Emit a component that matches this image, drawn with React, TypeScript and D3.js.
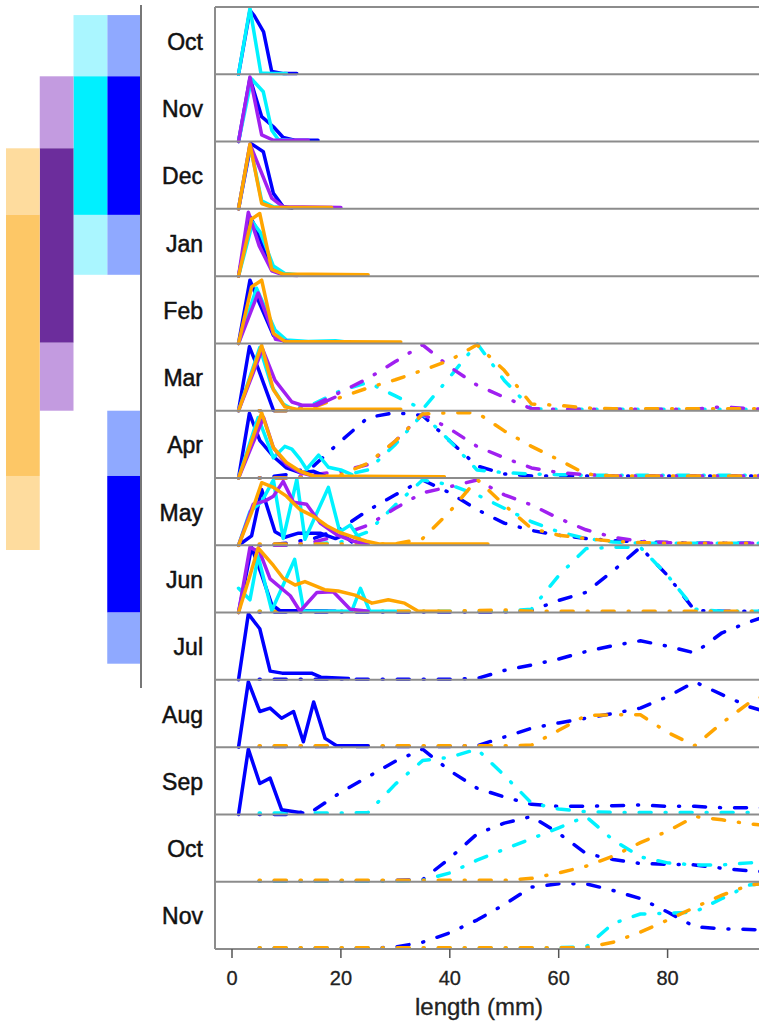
import React from "react";
import * as d3 from "d3";

// ---------- DATA ----------
const months = ["Oct", "Nov", "Dec", "Jan", "Feb", "Mar", "Apr", "May", "Jun", "Jul", "Aug", "Sep", "Oct", "Nov"];
const xTicks = [0, 20, 40, 60, 80];
const ddX = [5, 10, 15, 20, 25, 30, 35, 40, 45, 50, 55, 60, 65, 70, 75, 80, 85, 90, 95, 100];

const seriesColors: Record<string, string> = { blue: "#0000ff", cyan: "#00f2ff", purple: "#a020f0", orange: "#ffa500" };
const drawOrder = ["blue", "cyan", "purple", "orange"];

// Solid (small-size) relative frequency curves: [length, relative height]
const solidOct = {
  blue: [[1.2, 0], [3.3, 0.95], [4.1, 0.87], [5.8, 0.63], [7.3, 0.04], [9.5, 0.01], [11.9, 0.01]],
  cyan: [[1.2, 0], [3.3, 0.98], [5.3, 0.02], [7.5, 0.01], [10, 0.01]],
};
const solidNov = {
  blue: [[1.2, 0], [3.3, 0.94], [5.45, 0.37], [7.6, 0.22], [9.4, 0.06], [11.5, 0.02], [15.8, 0.02]],
  cyan: [[1.2, 0], [3.6, 0.93], [5.75, 0.74], [7.3, 0.17], [8.5, 0.03], [11, 0.02]],
  purple: [[1.2, 0], [3.3, 0.96], [5.45, 0.1], [7.6, 0.02], [14, 0.02]],
};
const solidDec = {
  blue: [[1.2, 0], [3.5, 0.97], [5.75, 0.85], [7.6, 0.23], [9.4, 0.03], [11, 0.01]],
  cyan: [[1.2, 0], [3.3, 0.95], [5.45, 0.12], [7.6, 0.03], [9.4, 0.02]],
  purple: [[1.2, 0], [3.3, 0.96], [7.3, 0.16], [9.4, 0.03], [20, 0.02]],
  orange: [[1.2, 0], [3.3, 0.96], [5.45, 0.08], [7.6, 0.02], [18.3, 0.02]],
};
const solidJan = {
  blue: [[1.2, 0], [3.3, 0.88], [4.2, 0.75], [7.3, 0.1], [9.4, 0.03], [11, 0.02]],
  cyan: [[1.2, 0], [3.8, 0.8], [5.2, 0.65], [7.6, 0.15], [9.7, 0.04], [12, 0.02]],
  purple: [[1.2, 0], [3.0, 0.95], [5.0, 0.45], [7.3, 0.08], [9.4, 0.02], [12, 0.01]],
  orange: [[1.2, 0], [3.6, 0.85], [5.1, 0.93], [7.3, 0.1], [9.4, 0.03], [25, 0.02]],
};
const solidFeb = {
  blue: [[1.2, 0], [3.3, 0.94], [4.5, 0.7], [7.6, 0.12], [9.7, 0.03], [12, 0.02]],
  cyan: [[1.2, 0], [4.5, 0.82], [7.9, 0.2], [10, 0.05], [14, 0.03], [19, 0.04], [21, 0.02]],
  purple: [[1.2, 0], [4.8, 0.75], [8.0, 0.06], [11, 0.02], [14, 0.02]],
  orange: [[1.2, 0], [3.6, 0.84], [5.45, 0.94], [7.6, 0.15], [9.7, 0.03], [31, 0.02]],
};
const solidMar = {
  blue: [[1.2, 0], [3.2, 0.95], [4.8, 0.63], [7.6, 0.01]],
  cyan: [[1.2, 0], [5.1, 0.94], [7.3, 0.36], [9.4, 0.1], [11, 0.03]],
  purple: [[1.2, 0], [5.6, 0.92], [7.9, 0.45], [11, 0.13], [13, 0.08], [15.6, 0.08], [18.9, 0.2]],
  orange: [[1.2, 0], [5.45, 0.97], [7.6, 0.31], [9.7, 0.06], [12, 0.02], [31, 0.02]],
};
const solidApr = {
  blue: [[1.2, 0], [3.2, 0.96], [5.1, 0.56], [7.6, 0.32], [10, 0.15], [12.5, 0.08], [15, 0.1], [17, 0.03]],
  cyan: [[1.2, 0], [4.8, 0.9], [7.6, 0.3], [9.7, 0.47], [11, 0.43], [12.5, 0.28], [13.7, 0.13], [15.9, 0.34], [17.7, 0.16], [20, 0.12], [22, 0.05]],
  purple: [[1.2, 0], [5.8, 0.9], [7.6, 0.45], [10, 0.2], [12.5, 0.08], [15, 0.03], [18, 0.02]],
  orange: [[1.2, 0], [5.45, 0.97], [7.6, 0.45], [10, 0.23], [12.5, 0.1], [15, 0.03], [39, 0.02]],
};
const solidMay = {
  blue: [[1.2, 0], [3.6, 0.14], [5.45, 0.83], [7.9, 0.2], [9.7, 0.12], [12.2, 0.18], [16.2, 0.18], [19, 0.1], [20.5, 0.15], [22, 0.05]],
  cyan: [[1.2, 0], [3.3, 0.5], [5.45, 0.65], [7.6, 0.97], [9.4, 0.1], [11.9, 0.98], [13.4, 0.09], [17.7, 0.86], [19.8, 0.2], [21.7, 0.3], [24, 0.03]],
  purple: [[1.2, 0], [3.9, 0.61], [6.1, 0.66], [7.6, 0.73], [9.4, 0.95], [11.3, 0.64], [13.7, 0.61], [16.2, 0.33], [19.4, 0.15], [22.3, 0.06], [25, 0.02]],
  orange: [[1.2, 0], [3.6, 0.49], [5.45, 0.93], [7.6, 0.86], [10, 0.73], [12.5, 0.53], [15, 0.43], [17.4, 0.29], [19.8, 0.19], [22.3, 0.12], [24.7, 0.06], [27, 0.02], [47, 0.02]],
};
const solidJun = {
  blue: [[1.2, 0], [3.6, 0.97], [5.45, 0.56], [7.3, 0.12], [8.8, 0.03], [19, 0.02]],
  cyan: [[1.2, 0.36], [3.3, 0.19], [4.8, 0.84], [7.3, 0.03], [11.5, 0.79], [13.2, 0.02], [22, 0.02], [23.6, 0.36], [25.3, 0.02], [30, 0.02]],
  purple: [[1.2, 0], [3.3, 0.97], [5.1, 0.9], [7.0, 0.5], [10.7, 0.25], [12.5, 0.02], [15.6, 0.3], [18.6, 0.31], [21.7, 0.05], [25, 0.02]],
  orange: [[1.2, 0], [3.3, 0.55], [4.8, 0.96], [7.6, 0.7], [9.4, 0.51], [11.6, 0.41], [13.4, 0.46], [17, 0.34], [19.5, 0.32], [22.6, 0.26], [25.7, 0.14], [28.7, 0.19], [31.7, 0.14], [34.2, 0.02], [38, 0.02]],
};
const solidJul = {
  blue: [[1.2, 0], [3.0, 0.98], [5.1, 0.76], [7.0, 0.13], [9.2, 0.1], [14.6, 0.1], [16.3, 0.04], [21.4, 0.02]],
};
const solidAug = {
  blue: [[1.2, 0], [3.0, 0.97], [5.1, 0.53], [7.0, 0.58], [9.1, 0.43], [11.3, 0.53], [13.1, 0.08], [15, 0.67], [17.1, 0.13], [19.2, 0.02], [25, 0.02]],
};
const solidSep = {
  blue: [[1.2, 0], [3.0, 0.97], [5.1, 0.46], [7.0, 0.54], [9.1, 0.07], [13, 0.02]],
};
const solidByPanel = [solidOct, solidNov, solidDec, solidJan, solidFeb, solidMar, solidApr, solidMay, solidJun, solidJul, solidAug, solidSep, {}, {}];

// Dash-dot (larger-size) curves, values at ddX (5..100 mm)
const ddMar = {
  cyan: [0, 0, 0.1, 0.3, 0.42, 0.22, 0.02, 0.5, 1.0, 0.45, 0.03, 0.02, 0.02, 0.02, 0.02, 0.02, 0.02, 0.02, 0.02, 0.02],
  purple: [0, 0, 0.08, 0.28, 0.48, 0.73, 0.98, 0.65, 0.38, 0.2, 0.03, 0.02, 0.02, 0.02, 0.02, 0.02, 0.02, 0.06, 0.03, 0.02],
  orange: [0, 0, 0.05, 0.2, 0.34, 0.46, 0.6, 0.75, 0.98, 0.6, 0.1, 0.08, 0.04, 0.03, 0.03, 0.03, 0.03, 0.03, 0.03, 0.03],
};
const ddApr = {
  blue: [0, 0.05, 0.18, 0.55, 0.9, 0.97, 0.93, 0.55, 0.18, 0.06, 0.03, 0.03, 0.03, 0.03, 0.03, 0.03, 0.03, 0.03, 0.03, 0.03],
  cyan: [0, 0, 0.02, 0.03, 0.12, 0.5, 0.95, 0.55, 0.12, 0.08, 0.06, 0.05, 0.04, 0.04, 0.04, 0.04, 0.04, 0.04, 0.04, 0.04],
  purple: [0, 0, 0.05, 0.1, 0.2, 0.55, 0.95, 0.73, 0.47, 0.3, 0.15, 0.08, 0.05, 0.03, 0.03, 0.03, 0.03, 0.03, 0.03, 0.03],
  orange: [0, 0, 0.02, 0.05, 0.22, 0.55, 0.95, 0.97, 0.97, 0.7, 0.47, 0.27, 0.06, 0.03, 0.03, 0.03, 0.03, 0.03, 0.03, 0.03],
};
const ddMay = {
  blue: [0, 0.03, 0.1, 0.25, 0.52, 0.75, 0.97, 0.78, 0.53, 0.33, 0.22, 0.15, 0.1, 0.07, 0.05, 0.04, 0.03, 0.03, 0.03, 0.03],
  cyan: [0, 0, 0.02, 0.05, 0.2, 0.6, 0.97, 0.9, 0.75, 0.55, 0.35, 0.2, 0.1, 0.05, 0.03, 0.03, 0.03, 0.03, 0.03, 0.03],
  purple: [0, 0, 0.05, 0.15, 0.3, 0.55, 0.78, 0.87, 0.97, 0.75, 0.6, 0.4, 0.23, 0.12, 0.06, 0.04, 0.03, 0.03, 0.03, 0.03],
  orange: [0.02, 0.02, 0.02, 0.02, 0.02, 0.02, 0.1, 0.5, 0.98, 0.6, 0.25, 0.15, 0.1, 0.06, 0.04, 0.03, 0.03, 0.03, 0.03, 0.03],
};
const ddJun = {
  blue: [0.01, 0.01, 0.01, 0.01, 0.01, 0.01, 0.01, 0.01, 0.01, 0.01, 0.03, 0.18, 0.3, 0.62, 0.97, 0.55, 0.03, 0.02, 0.02, 0.02],
  cyan: [0.02, 0.02, 0.02, 0.02, 0.02, 0.02, 0.02, 0.02, 0.02, 0.02, 0.05, 0.55, 0.95, 0.97, 0.97, 0.55, 0.05, 0.02, 0.02, 0.02],
  orange: [0.02, 0.02, 0.02, 0.02, 0.02, 0.02, 0.02, 0.02, 0.03, 0.04, 0.02, 0.02, 0.02, 0.02, 0.02, 0.02, 0.02, 0.02, 0.02, 0.02],
};
const ddJul = {
  blue: [0.01, 0.01, 0.01, 0.01, 0.01, 0.01, 0.01, 0.01, 0.02, 0.14, 0.22, 0.31, 0.42, 0.51, 0.58, 0.5, 0.4, 0.7, 0.86, 1.0],
};
const ddAug = {
  blue: [0.01, 0.01, 0.01, 0.01, 0.01, 0.01, 0.01, 0.01, 0.02, 0.15, 0.28, 0.36, 0.43, 0.5, 0.58, 0.75, 0.97, 0.78, 0.6, 0.48],
  orange: [0.02, 0.02, 0.02, 0.02, 0.02, 0.02, 0.02, 0.02, 0.02, 0.02, 0.03, 0.25, 0.47, 0.48, 0.48, 0.22, 0.02, 0.36, 0.66, 0.85],
};
const ddSep = {
  blue: [0, 0, 0.06, 0.33, 0.56, 0.79, 0.97, 0.65, 0.39, 0.26, 0.15, 0.12, 0.12, 0.13, 0.14, 0.12, 0.12, 0.1, 0.1, 0.1],
  cyan: [0.02, 0.02, 0.02, 0.02, 0.03, 0.45, 0.8, 0.85, 0.97, 0.58, 0.17, 0.08, 0.04, 0.03, 0.03, 0.03, 0.03, 0.03, 0.03, 0.03],
};
const ddOct2 = {
  blue: [0.01, 0.01, 0.01, 0.01, 0.01, 0.02, 0.03, 0.35, 0.71, 0.87, 0.97, 0.72, 0.42, 0.33, 0.27, 0.26, 0.25, 0.2, 0.16, 0.14],
  cyan: [0.01, 0.01, 0.01, 0.01, 0.01, 0.01, 0.02, 0.13, 0.32, 0.48, 0.64, 0.8, 0.97, 0.62, 0.37, 0.28, 0.25, 0.25, 0.28, 0.3],
  orange: [0.02, 0.02, 0.02, 0.02, 0.02, 0.02, 0.02, 0.02, 0.02, 0.02, 0.05, 0.13, 0.23, 0.38, 0.58, 0.75, 0.97, 0.92, 0.86, 0.82],
};
const ddNov2 = {
  blue: [0.01, 0.01, 0.01, 0.01, 0.01, 0.03, 0.1, 0.24, 0.43, 0.66, 0.92, 0.97, 0.97, 0.87, 0.75, 0.55, 0.33, 0.3, 0.29, 0.28],
  cyan: [0.01, 0.01, 0.01, 0.01, 0.01, 0.01, 0.01, 0.01, 0.01, 0.01, 0.01, 0.02, 0.03, 0.38, 0.52, 0.53, 0.55, 0.75, 0.95, 1.0],
  orange: [0.02, 0.02, 0.02, 0.02, 0.02, 0.02, 0.02, 0.02, 0.02, 0.02, 0.02, 0.02, 0.02, 0.1, 0.25, 0.43, 0.62, 0.8, 0.95, 1.0],
};
const ddByPanel = [{}, {}, {}, {}, {}, ddMar, ddApr, ddMay, ddJun, ddJul, ddAug, ddSep, ddOct2, ddNov2];

// Left timing bars: [column, startMonthIndex, endMonthIndex, shade]
const barColumns = ["orange", "purple", "cyan", "blue"];
const barShades: Record<string, string[]> = {
  orange: ["#fedc9e", "#fdc766"],
  purple: ["#c39be0", "#6c2d9c"],
  cyan: ["#aaf6ff", "#00f0ff"],
  blue: ["#8fa9ff", "#0000ff"],
};
const timingBars: [string, number, number, number][] = [
  ["blue", 0.12, 1.03, 0], ["blue", 1.03, 3.09, 1], ["blue", 3.09, 3.98, 0],
  ["blue", 6.0, 6.97, 0], ["blue", 6.97, 9.0, 1], ["blue", 9.0, 9.76, 0],
  ["cyan", 0.12, 1.03, 0], ["cyan", 1.03, 3.09, 1], ["cyan", 3.09, 3.98, 0],
  ["purple", 1.03, 2.1, 0], ["purple", 2.1, 4.99, 1], ["purple", 4.99, 6.0, 0],
  ["orange", 2.1, 3.09, 0], ["orange", 3.09, 6.97, 1], ["orange", 6.97, 8.07, 0],
];

// ---------- LAYOUT ----------
const W = 759;
const H = 1023;
const plotLeft = 215;
const plotRight = 800;
const plotTop = 7;
const plotBottom = 949;
const barLeft = 6;
const barRight = 141;
const font = "Liberation Sans, Arial, sans-serif";

export default function App() {
  const x = d3.scaleLinear().domain([0, 100]).range([232, 776.5]);
  const band = d3.scaleBand<number>().domain(d3.range(months.length)).range([plotTop, plotBottom]).paddingInner(0).paddingOuter(0);
  const monthY = d3.scaleLinear().domain([0, months.length]).range([plotTop, plotBottom]);
  const colX = d3.scaleBand<string>().domain(barColumns).range([barLeft, barRight]);
  const ph = band.bandwidth();

  const panels = months.map((m, i) => {
    const top = band(i) as number;
    const y = d3.scaleLinear().domain([0, 1]).range([top + ph, top]);
    const line = d3.line<number[]>().x((d) => x(d[0])).y((d) => y(d[1]));
    const dd: any = ddByPanel[i];
    const solid: any = solidByPanel[i];
    return (
      <g key={i}>
        <g clipPath="url(#plotClip)">
          {drawOrder.filter((c) => dd[c]).map((c) => (
            <path key={"dd" + c} d={line(ddX.map((xv, k) => [xv, dd[c][k]])) || ""} fill="none"
              stroke={seriesColors[c]} strokeWidth={3.5} strokeDasharray="1 14 12 14"
              strokeLinecap="round" strokeLinejoin="round" />
          ))}
          {drawOrder.filter((c) => solid[c]).map((c) => (
            <path key={"s" + c} d={line(solid[c]) || ""} fill="none" stroke={seriesColors[c]}
              strokeWidth={3.5} strokeLinejoin="round" strokeLinecap="round" />
          ))}
        </g>
        <text x={203} y={top + ph / 2 + 9} textAnchor="end" fontFamily={font}
          fontSize={23} fill="#111" stroke="#111" strokeWidth={0.5}>{m}</text>
      </g>
    );
  });

  return (
    <svg width={W} height={H} style={{ position: "absolute", left: 0, top: 0, background: "#fff" }}>
      <defs>
        <clipPath id="plotClip">
          <rect x={plotLeft} y={plotTop - 2} width={plotRight - plotLeft} height={plotBottom - plotTop + 4} />
        </clipPath>
      </defs>
      {timingBars.map(([c, s, e, shade], i) => (
        <rect key={i} x={colX(c)} y={monthY(s)} width={colX.bandwidth()} height={monthY(e) - monthY(s)}
          fill={barShades[c][shade]} />
      ))}
      <line x1={barRight} x2={barRight} y1={5} y2={688} stroke="#777" strokeWidth={2} />
      {panels}
      {d3.range(months.length + 1).map((i) => (
        <line key={"h" + i} x1={plotLeft} x2={plotRight} y1={monthY(i)} y2={monthY(i)} stroke="#8c8c8c" strokeWidth={2} />
      ))}
      <line x1={plotLeft} x2={plotLeft} y1={plotTop} y2={plotBottom} stroke="#8c8c8c" strokeWidth={2} />
      {xTicks.map((t) => (
        <g key={t}>
          <line x1={x(t)} x2={x(t)} y1={plotBottom} y2={plotBottom + 9} stroke="#555" strokeWidth={1.5} />
          <text x={x(t)} y={985} textAnchor="middle" fontFamily={font} fontSize={20} fill="#222" stroke="#222" strokeWidth={0.3}>{t}</text>
        </g>
      ))}
      <text x={479} y={1015} textAnchor="middle" fontFamily={font} fontSize={24} fill="#222" stroke="#222" strokeWidth={0.3}>length (mm)</text>
    </svg>
  );
}
